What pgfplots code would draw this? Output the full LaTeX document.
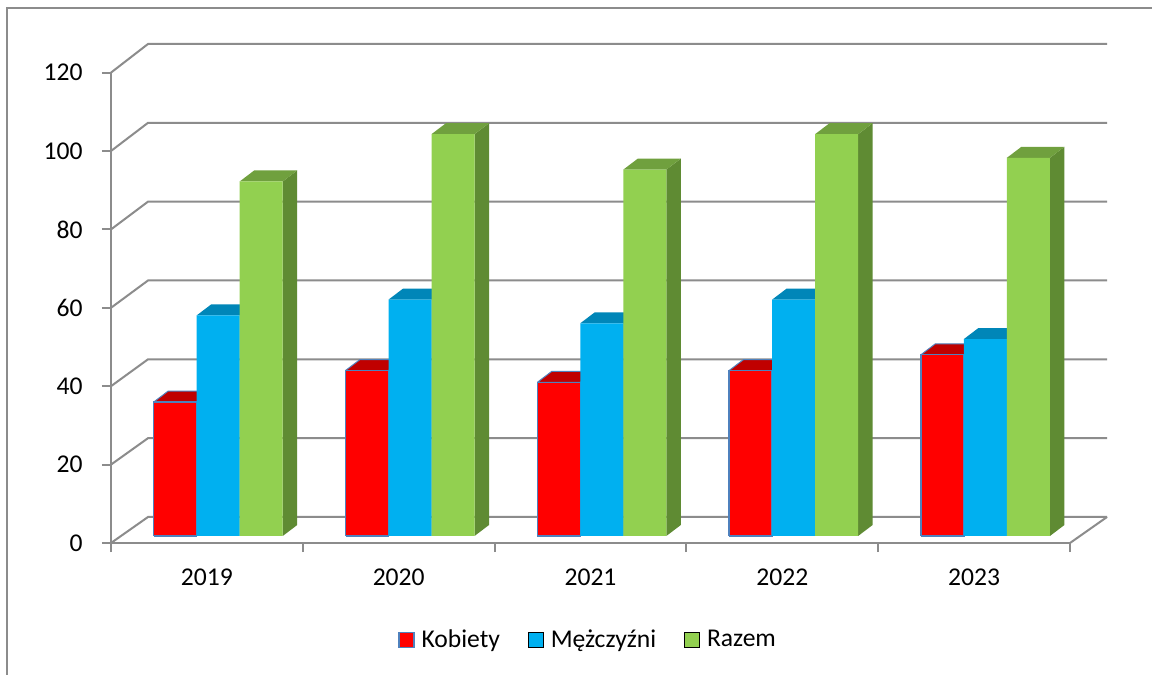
\documentclass[border=0pt]{standalone}
\usepackage{pgfplots}
\pgfplotsset{compat=1.18}
\usepackage{fontspec}
\setmainfont{Carlito}
\definecolor{gridc}{RGB}{140,140,140}
\definecolor{kobF}{HTML}{FF0000}
\definecolor{kobT}{HTML}{C00000}
\definecolor{kobE}{HTML}{4F81BD}
\definecolor{menF}{HTML}{00B0F0}
\definecolor{menT}{HTML}{0086B8}
\definecolor{razF}{HTML}{92D050}
\definecolor{razS}{HTML}{5F8B33}
\definecolor{razT}{HTML}{70A03E}
\pgfplotsset{
 kobfront/.style={fill=kobF, draw=kobE, line width=0.7pt},
 kobtop/.style={fill=kobT, draw=kobE, line width=0.5pt},
 kobside/.style={fill=kobT, draw=none},
 menfront/.style={fill=menF, draw=none},
 mentop/.style={fill=menT, draw=none},
 menside/.style={fill=menT, draw=none},
 razfront/.style={fill=razF, draw=none},
 raztop/.style={fill=razT, draw=none},
 razside/.style={fill=razS, draw=none},
 gridl/.style={draw=gridc, line width=1pt},
}
% #1 category index, #2 position in group, #3 value, #4 series
\newcommand\threebar[4]{%
 \pgfmathsetmacro\xl{#1+0.2227+#2*0.2242}%
 \pgfmathsetmacro\xr{\xl+0.2242}%
 \pgfmathsetmacro\xld{\xl+0.0756}%
 \pgfmathsetmacro\xrd{\xr+0.0756}%
 \pgfmathsetmacro\yt{1.786+#3*1.005}%
 \pgfmathsetmacro\ytd{\yt+2.806}%
 \addplot[forget plot, #4side] coordinates {(\xr,1.786) (\xrd,4.592) (\xrd,\ytd) (\xr,\yt) (\xr,1.786)};
 \addplot[forget plot, #4top] coordinates {(\xl,\yt) (\xld,\ytd) (\xrd,\ytd) (\xr,\yt) (\xl,\yt)};
 \addplot[forget plot, #4front] coordinates {(\xl,1.786) (\xl,\yt) (\xr,\yt) (\xr,1.786) (\xl,1.786)};
}
\begin{document}
\begin{tikzpicture}
\useasboundingbox (0pt,0pt) rectangle (576pt,337.5pt);
\fill[white] (0pt,0pt) rectangle (576pt,337.5pt);
\draw[draw=gridc, line width=0.75pt] (3.6pt,-5pt) -- (3.6pt,333.6pt) -- (590pt,333.6pt);
\begin{axis}[
 at={(55.5pt,66pt)}, anchor=south west,
 scale only axis, width=479.5pt, height=235.2pt,
 xmin=0, xmax=5, ymin=0, ymax=120, clip=false,
 axis x line*=bottom, axis y line*=left,
 axis line style={draw=gridc, line width=1pt, -},
 xtick={0,1,2,3,4,5}, xticklabels={2019,2020,2021,2022,2023,},
 xticklabel style={xshift=47.95pt, inner ysep=0pt, yshift=-8pt},
 ytick={0,20,...,120},
 yticklabel style={inner xsep=0pt, xshift=-9.5pt},
 tick align=outside, major tick length=4.5pt,
 tick style={draw=gridc, line width=1pt},
 tick label style={font=\fontsize{12.8}{15}\selectfont, text=black},
 /pgf/number format/assume math mode=true,
 legend image code/.code={\draw[#1] (0pt,-3.75pt) rectangle (7.5pt,3.75pt);},
 legend columns=3,
 legend style={at={(0.4964,-0.2062)}, anchor=center, draw=none, fill=none,
   inner sep=0pt, font=\fontsize{12.8}{15}\selectfont,
   nodes={inner xsep=0pt, inner ysep=1pt},
   /tikz/every odd column/.append style={column sep=3.5pt},
   /tikz/every even column/.append style={column sep=14pt}},
]
\addlegendimage{fill=kobF, draw=kobE, line width=0.7pt}
\addlegendentry{Kobiety}
\addlegendimage{fill=menF, draw=none}
\addlegendentry{Mężczyźni}
\addlegendimage{fill=razF, draw=none}
\addlegendentry{Razem}
% back wall and floor
\addplot[forget plot, gridl] coordinates {(0,0) (0.193,6.633) (5.193,6.633)};
\addplot[forget plot, gridl] coordinates {(5,0) (5.193,6.633)};
\addplot[forget plot, gridl] coordinates {(0,20) (0.193,26.74) (5.193,26.74)};
\addplot[forget plot, gridl] coordinates {(0,40) (0.193,46.86) (5.193,46.86)};
\addplot[forget plot, gridl] coordinates {(0,60) (0.193,66.97) (5.193,66.97)};
\addplot[forget plot, gridl] coordinates {(0,80) (0.193,87.08) (5.193,87.08)};
\addplot[forget plot, gridl] coordinates {(0,100) (0.193,107.19) (5.193,107.19)};
\addplot[forget plot, gridl] coordinates {(0,120) (0.193,127.30) (5.193,127.30)};
% bars: Kobiety, Mężczyźni, Razem
\threebar{0}{0}{34}{kob}\threebar{0}{1}{56}{men}\threebar{0}{2}{90}{raz}
\threebar{1}{0}{42}{kob}\threebar{1}{1}{60}{men}\threebar{1}{2}{102}{raz}
\threebar{2}{0}{39}{kob}\threebar{2}{1}{54}{men}\threebar{2}{2}{93}{raz}
\threebar{3}{0}{42}{kob}\threebar{3}{1}{60}{men}\threebar{3}{2}{102}{raz}
\threebar{4}{0}{46}{kob}\threebar{4}{1}{50}{men}\threebar{4}{2}{96}{raz}
\end{axis}
\end{tikzpicture}
\end{document}
